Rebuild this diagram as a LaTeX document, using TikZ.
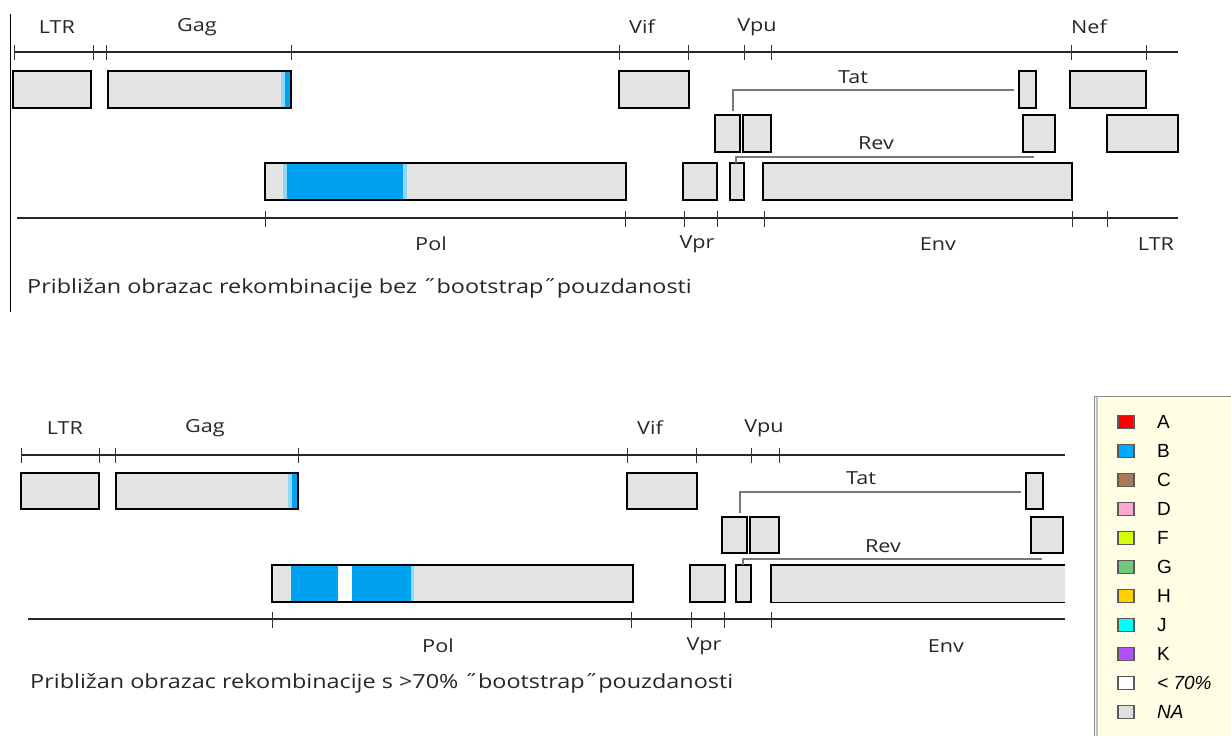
\documentclass[tikz,border=0pt]{standalone}
\usepackage{fontspec}
\setmainfont{Open Sans}
\newfontfamily\lblfont[FakeStretch=1.2]{Open Sans}
\newfontfamily\legfont{Liberation Sans}
\definecolor{boxgray}{HTML}{E3E3E3}
\definecolor{bblue}{HTML}{00A2F0}
\definecolor{lblue}{HTML}{8FD8F8}
\definecolor{legbg}{HTML}{FFFDE4}
\definecolor{tline}{HTML}{787878}
\definecolor{cA}{HTML}{FF0000}
\definecolor{cB}{HTML}{00A8FF}
\definecolor{cC}{HTML}{A87A58}
\definecolor{cD}{HTML}{FFA8D0}
\definecolor{cF}{HTML}{D4FF00}
\definecolor{cG}{HTML}{70C878}
\definecolor{cH}{HTML}{FFD000}
\definecolor{cJ}{HTML}{00FFFF}
\definecolor{cK}{HTML}{B050FF}
\definecolor{cNA}{HTML}{E0E0E0}
\newcommand{\gb}[5]{\node[gbox, minimum width=#4pt-#2pt, minimum height=#5pt-#3pt] (#1) at (#2,#3) {};}
\newcommand{\rebord}[1]{\draw[boxline] (#1.north west) rectangle (#1.south east);}
\begin{document}
\begin{tikzpicture}[x=1pt,y=-1pt,
  gbox/.style={draw=black, line width=1.4pt, fill=boxgray, inner sep=0pt, outer sep=0pt, anchor=north west},
  boxline/.style={draw=black, line width=1.4pt},
  axis/.style={draw=black!85, line width=1.1pt},
  tk/.style={draw=black!80, line width=1pt},
  glabel/.style={font=\lblfont\fontsize{18}{18}\selectfont, text=black!85, inner sep=0pt},
  caption/.style={font=\lblfont\fontsize{19.5}{20}\selectfont, text=black!85, inner sep=0pt, anchor=west},
  conn/.style={draw=tline, line width=2.2pt},
  legsq/.style={draw=black!65, line width=1.2pt, minimum width=16pt, minimum height=13pt, inner sep=0pt},
  legtxt/.style={font=\legfont\fontsize{19}{19}\selectfont, anchor=west, inner sep=0pt}]
\useasboundingbox (0,0) rectangle (1231,736);
\fill[white] (0,0) rectangle (1231,736);

%%%%%%%%%%%%%%%%%% TOP PANEL %%%%%%%%%%%%%%%%%%
\draw[black, line width=1pt] (10,14) -- (10,312);
% upper axis
\draw[axis] (14,52) -- (1178,52);
\foreach \x in {14,93,106,291,619,688,744,771,1071,1146}
  \draw[tk] (\x,45) -- (\x,60);
\node[glabel] (lLTRa) at (57,27) {LTR};
\node[glabel] (lGaga) at (197,27) {Gag};
\node[glabel] (lVifa) at (642,27) {Vif};
\node[glabel] (lVpua) at (757,27) {Vpu};
\node[glabel] (lNefa) at (1089,27) {Nef};
% row 1
\gb{ltrA}{13}{71}{91}{108}
\gb{gagA}{108}{71}{291}{108}
\gb{vifA}{619}{71}{689}{108}
\gb{tatA1}{1019}{71}{1036}{108}
\gb{nefA}{1070}{71}{1146}{108}
\fill[lblue] (281,71) rectangle (285,108);
\fill[bblue] (285,71) rectangle (291,108);
\rebord{gagA}
% row 2
\gb{tatA2}{715}{115}{740}{152}
\gb{vpuA}{743}{115}{771}{152}
\gb{revA2}{1023}{115}{1055}{152}
\gb{nefA2}{1107}{115}{1178}{152}
% row 3
\gb{polA}{265}{163}{626}{200}
\fill[lblue] (283,163) rectangle (287,200);
\fill[bblue] (287,163) rectangle (403,200);
\fill[lblue] (403,163) rectangle (407,200);
\rebord{polA}
\gb{vprA}{683}{163}{717}{200}
\gb{revA3}{730}{163}{744}{200}
\gb{envA}{763}{163}{1072}{200}
% Tat / Rev connectors
\coordinate (tatAs) at (733,111);
\coordinate (tatAe) at (1014,90);
\draw[conn] (tatAs) |- (tatAe);
\node[glabel] (lTata) at (853,77) {Tat};
\coordinate (revAs) at (736,163);
\coordinate (revAe) at (1034,157);
\draw[conn] (revAs) |- (revAe);
\node[glabel] (lReva) at (876,143) {Rev};
% lower axis
\draw[axis] (17,218) -- (1178,218);
\foreach \x in {265,625,684,717,764,1072,1107}
  \draw[tk] (\x,211) -- (\x,227);
\node[glabel] (lPola) at (431,244) {Pol};
\node[glabel] (lVpra) at (697,244) {Vpr};
\node[glabel] (lEnva) at (938,244) {Env};
\node[glabel] (lLTRa2) at (1156,244) {LTR};
\node[caption] (capA) at (27,288) {Približan obrazac rekombinacije bez ˝bootstrap˝pouzdanosti};

%%%%%%%%%%%%%%%%%% BOTTOM PANEL %%%%%%%%%%%%%%%%%%
\draw[axis] (21,455) -- (1065,455);
\foreach \x in {21,99,115,298,627,696,751,779}
  \draw[tk] (\x,448) -- (\x,463);
\node[glabel] (lLTRb) at (65,428) {LTR};
\node[glabel] (lGagb) at (205,428) {Gag};
\node[glabel] (lVifb) at (650,428) {Vif};
\node[glabel] (lVpub) at (764,428) {Vpu};
% row 1
\gb{ltrB}{21}{473}{99}{509}
\gb{gagB}{116}{473}{298}{509}
\gb{vifB}{627}{473}{697}{509}
\gb{tatB1}{1026}{473}{1043}{509}
\fill[lblue] (288,473) rectangle (292,509);
\fill[bblue] (292,473) rectangle (298,509);
\rebord{gagB}
% row 2
\gb{tatB2}{722}{517}{747}{553}
\gb{vpuB}{750}{517}{779}{553}
\gb{revB2}{1031}{517}{1063}{553}
% row 3
\gb{polB}{272}{565}{633}{602}
\fill[bblue] (291,565) rectangle (338,602);
\fill[white] (338,565) rectangle (352,602);
\fill[bblue] (352,565) rectangle (411,602);
\fill[lblue] (411,565) rectangle (414,602);
\rebord{polB}
\gb{vprB}{690}{565}{725}{602}
\gb{revB3}{736}{565}{751}{602}
\node[fill=boxgray, inner sep=0pt, anchor=north west, minimum width=294pt, minimum height=37pt] (envB) at (771,565) {};
\draw[boxline] (envB.north east) -- (envB.north west) -- (envB.south west) -- (envB.south east);
% Tat / Rev connectors
\coordinate (tatBs) at (740,513);
\coordinate (tatBe) at (1021,492);
\draw[conn] (tatBs) |- (tatBe);
\node[glabel] (lTatb) at (861,478) {Tat};
\coordinate (revBs) at (743,565);
\coordinate (revBe) at (1042,559);
\draw[conn] (revBs) |- (revBe);
\node[glabel] (lRevb) at (883,546) {Rev};
% lower axis
\draw[axis] (28,619) -- (1065,619);
\foreach \x in {272,631,691,724,771}
  \draw[tk] (\x,612) -- (\x,628);
\node[glabel] (lPolb) at (438,646) {Pol};
\node[glabel] (lVprb) at (704,646) {Vpr};
\node[glabel] (lEnvb) at (946,646) {Env};
\node[caption] (capB) at (30,683) {Približan obrazac rekombinacije s >70\% ˝bootstrap˝pouzdanosti};

%%%%%%%%%%%%%%%%%% LEGEND %%%%%%%%%%%%%%%%%%
\fill[legbg] (1094,396) rectangle (1231,736);
\draw[black!45, line width=1pt] (1231,396) -- (1094,396) -- (1094,736);
\draw[black!25, line width=1.5pt] (1097,397) -- (1097,736);
\foreach \n/\c/\t [count=\i from 0] in {A/cA/A, B/cB/B, C/cC/C, D/cD/D, F/cF/F, G/cG/G, H/cH/H, J/cJ/J, K/cK/K, W/white/{\itshape < 70\%}, N/cNA/{\itshape NA}} {
  \node[legsq, fill=\c] (sq\n) at (1126,422+29*\i) {};
  \node[legtxt] (tx\n) at (1157,422+29*\i) {\t};
}
\end{tikzpicture}
\end{document}
